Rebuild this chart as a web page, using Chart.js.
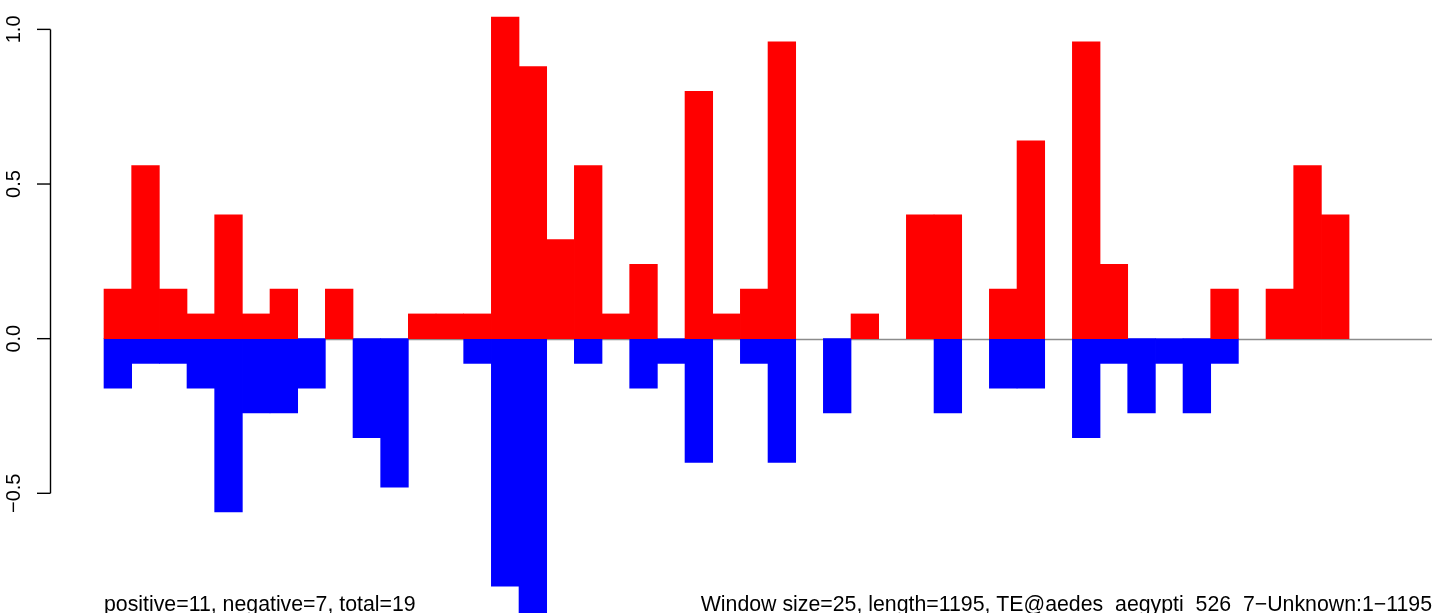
<!DOCTYPE html>
<html>
<head>
<meta charset="utf-8">
<script src="https://cdn.jsdelivr.net/npm/chart.js@4.4.1/dist/chart.umd.min.js"></script>
<style>
  html, body { margin: 0; padding: 0; background: #ffffff; }
  #wrap { position: relative; width: 1444px; height: 613px; }
</style>
</head>
<body>
<div id="wrap"><canvas id="c"></canvas></div>
<script>
// ---- data ----
const windowSize = 25;
const seqLength = 1195;
const binStarts = [0,25,50,75,100,125,150,175,200,225,250,275,300,325,350,375,400,425,450,475,500,525,550,575,600,625,650,675,700,725,750,775,800,825,850,875,900,925,950,975,1000,1025,1050,1075,1100,1125,1150,1175];
const positiveValues = [0.16,0.56,0.16,0.08,0.40,0.08,0.16,0,0.16,0,
                        0,0.08,0.08,0.08,1.04,0.88,0.32,0.56,0.08,0.24,
                        0,0.80,0.08,0.16,0.96,0,0,0.08,0,0.40,
                        0.40,0,0.16,0.64,0,0.96,0.24,0,0,0,
                        0.16,0,0.16,0.56,0.40,0,0,0];
const negativeValues = [-0.16,-0.08,-0.08,-0.16,-0.56,-0.24,-0.24,-0.16,0,-0.32,
                        -0.48,0,0,-0.08,-0.80,-0.96,0,-0.08,0,-0.16,
                        -0.08,-0.40,0,-0.08,-0.40,0,-0.24,0,0,0,
                        -0.24,0,-0.16,-0.16,0,-0.32,-0.08,-0.24,-0.08,-0.24,
                        -0.08,0,0,0,0,0,0,0];
const yTicks = [-0.5, 0, 0.5, 1.0];
const leftNote = "positive=11, negative=7, total=19";
const rightNote = "Window size=25, length=1195, TE@aedes_aegypti_526_7\u2212Unknown:1\u22121195";

// ---- build ----
const mk = (vals) => vals.map((v, i) => ({ x: binStarts[i] + windowSize / 2, y: v === 0 ? null : v }));
const fmt = (v) => Number(v).toFixed(1).replace('-', '\u2212');
const FONT = '"Liberation Sans", Arial, sans-serif';

const zeroLinePlugin = {
  id: 'zeroLine',
  beforeDatasetsDraw(chart) {
    const ctx = chart.ctx;
    const ys = chart.scales.y, xs = chart.scales.x;
    const y0 = Math.round(ys.getPixelForValue(0)) + 0.5;
    ctx.save();
    ctx.strokeStyle = '#8c8c8c';
    ctx.lineWidth = 1.3;
    ctx.beginPath();
    ctx.moveTo(xs.getPixelForValue(0), y0);
    ctx.lineTo(chart.chartArea.right - 12, y0);
    ctx.stroke();
    ctx.restore();
  }
};

const rAxisPlugin = {
  id: 'rAxis',
  afterDraw(chart) {
    const ctx = chart.ctx;
    const ys = chart.scales.y;
    const xs = chart.scales.x;
    const ca = chart.chartArea;
    ctx.save();
    ctx.strokeStyle = '#000';
    ctx.lineWidth = 1.4;
    const xl = ca.left + 0.5;
    ctx.beginPath();
    ctx.moveTo(xl, ys.getPixelForValue(yTicks[0]));
    ctx.lineTo(xl, ys.getPixelForValue(yTicks[yTicks.length - 1]));
    ctx.stroke();
    ctx.fillStyle = '#000';
    ctx.font = '20px ' + FONT;
    for (const t of ys.ticks) {
      const py = ys.getPixelForValue(t.value);
      ctx.beginPath();
      ctx.moveTo(xl - 13.5, py);
      ctx.lineTo(xl, py);
      ctx.stroke();
      ctx.save();
      ctx.translate(20, py);
      ctx.rotate(-Math.PI / 2);
      ctx.textAlign = 'center';
      ctx.textBaseline = 'alphabetic';
      ctx.fillText(fmt(t.value), 0, 0);
      ctx.restore();
    }
    ctx.font = '21.3px ' + FONT;
    ctx.textBaseline = 'alphabetic';
    ctx.textAlign = 'left';
    ctx.fillText(leftNote, xs.getPixelForValue(0), 611);
    ctx.textAlign = 'right';
    ctx.fillText(rightNote, ca.right - 12, 611);
    ctx.restore();
  }
};

new Chart(document.getElementById('c'), {
  type: 'bar',
  data: {
    datasets: [
      {
        data: mk(positiveValues),
        backgroundColor: '#ff0000',
        borderWidth: 0,
        grouped: false,
        barPercentage: 1,
        categoryPercentage: 1
      },
      {
        data: mk(negativeValues),
        backgroundColor: '#0000ff',
        borderWidth: 0,
        grouped: false,
        barPercentage: 1,
        categoryPercentage: 1
      }
    ]
  },
  options: {
    responsive: true,
    maintainAspectRatio: false,
    animation: false,
    layout: { padding: 0 },
    plugins: { legend: { display: false }, tooltip: { enabled: false } },
    scales: {
      x: {
        type: 'linear',
        display: false,
        offset: false,
        grid: { offset: false },
        min: -48.8,
        max: 1210.8,
        ticks: { includeBounds: false }
      },
      y: {
        type: 'linear',
        min: -0.887,
        max: 1.095,
        afterFit(scale) { scale.width = 50; },
        afterBuildTicks(scale) { scale.ticks = yTicks.map(v => ({ value: v })); },
        border: { display: false },
        grid: { display: false },
        ticks: { display: false, includeBounds: false }
      }
    }
  },
  plugins: [zeroLinePlugin, rAxisPlugin]
});
</script>
</body>
</html>
